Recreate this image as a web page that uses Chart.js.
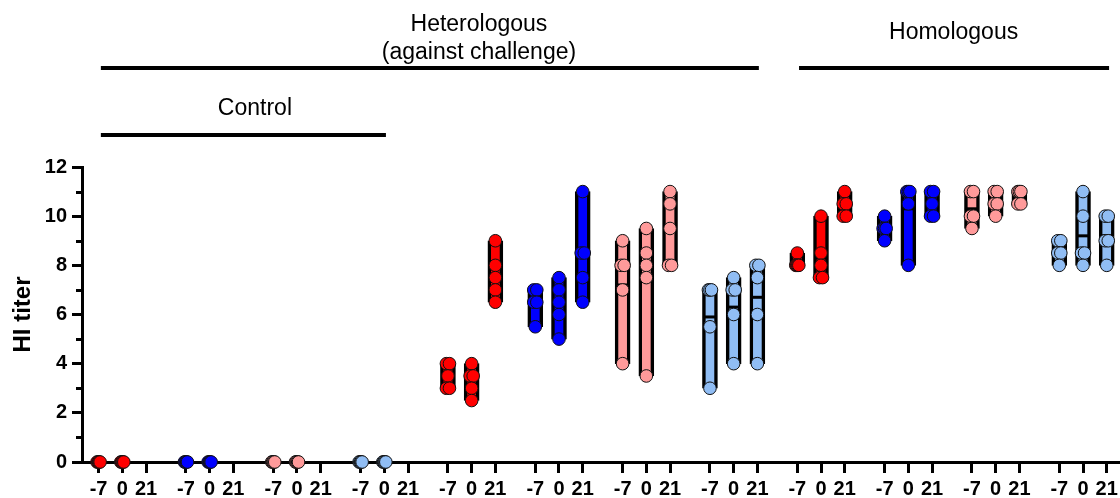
<!DOCTYPE html>
<html>
<head>
<meta charset="utf-8">
<script src="https://cdn.jsdelivr.net/npm/chart.js@4.4.0/dist/chart.umd.min.js"></script>
<style>
  html, body { margin: 0; padding: 0; background: #fff; }
  #wrap { width: 1120px; height: 498px; }
</style>
</head>
<body>
<div id="wrap"><canvas id="titerChart" width="1120" height="498"></canvas></div>
<script>
/* HI titers per animal, days -7 / 0 / 21, one array per group */
var dayLabels = ['-7', '0', '21'];

var controlRed       = [[0, 0, 0, 0, 0], [0, 0, 0, 0, 0], []];
var controlBlue      = [[0, 0, 0, 0, 0], [0, 0, 0, 0, 0], []];
var controlPink      = [[0, 0, 0, 0, 0], [0, 0, 0, 0, 0], []];
var controlLightBlue = [[0, 0, 0, 0, 0], [0, 0, 0, 0, 0], []];

var heteroRed        = [[4, 4, 3.5, 3, 3], [4, 3.5, 3.5, 3, 2.5], [9, 8, 7.5, 7, 6.5]];
var heteroBlue       = [[7, 7, 6.5, 6.5, 5.5], [7.5, 7, 6.5, 6, 5], [11, 8.5, 8.5, 7.5, 6.5]];
var heteroPink       = [[9, 8, 8, 7, 4], [9.5, 8.5, 8, 7.5, 3.5], [11, 10.5, 9.5, 8, 8]];
var heteroLightBlue  = [[7, 7, 7, 5.5, 3], [7.5, 7, 7, 6, 4], [8, 8, 7.5, 6, 4]];

var homoRed          = [[8.5, 8, 8, 8, 8], [10, 8.5, 8, 7.5, 7.5], [11, 10.5, 10.5, 10, 10]];
var homoBlue         = [[10, 9.5, 9.5, 9.5, 9], [11, 11, 11, 10.5, 8], [11, 11, 10.5, 10, 10]];
var homoPink         = [[11, 11, 10, 10, 9.5], [11, 11, 10.5, 10.5, 10], [11, 11, 11, 10.5, 10.5]];
var homoLightBlue    = [[9, 9, 8.5, 8.5, 8], [11, 10, 8.5, 8.5, 8], [10, 10, 9, 9, 8]];

var groups = [
  controlRed, controlBlue, controlPink, controlLightBlue,
  heteroRed, heteroBlue, heteroPink, heteroLightBlue,
  homoRed, homoBlue, homoPink, homoLightBlue
];

var palette = ['#ff0000', '#0000ff', '#ff9a9a', '#90bdf4'];
var DAY_STEP = 0.2715;   // day spacing, in group widths

function xOf(g, d) { return g + d * DAY_STEP; }

/* spread repeated values a couple of pixels apart */
function jitter(values) {
  var seen = {};
  return values.map(function (v) {
    var n = values.filter(function (w) { return w === v; }).length;
    var k = seen[v] = (seen[v] || 0) + 1;
    return n > 1 ? ((k - 1) / (n - 1) - 0.5) * 0.035 : 0;
  });
}

var bars = [], barColors = [], dots = [], dotColors = [], means = [];
var tickValues = [];

groups.forEach(function (grp, g) {
  var color = palette[g % 4];
  grp.forEach(function (vals, d) {
    var x = xOf(g, d);
    tickValues.push(x);
    if (!vals.length) return;
    var lo = Math.min.apply(null, vals), hi = Math.max.apply(null, vals);
    if (hi > lo) { bars.push({ x: x, y: [lo, hi] }); barColors.push(color); }
    var mean = vals.reduce(function (a, b) { return a + b; }, 0) / vals.length;
    means.push({ x: x, y: mean });
    var offs = jitter(vals);
    vals.forEach(function (v, i) {
      dots.push({ x: x + offs[i], y: v });
      dotColors.push(color);
    });
  });
});

/* brackets above the plot + minor y ticks */
var annotations = {
  id: 'annotations',
  afterDraw: function (chart) {
    var ctx = chart.ctx, xs = chart.scales.x, ys = chart.scales.y;
    ctx.save();
    ctx.strokeStyle = '#000';
    ctx.lineWidth = 3;
    for (var v = 1; v < 12; v += 2) {
      var py = Math.round(ys.getPixelForValue(v)) + 0.5;
      ctx.beginPath();
      ctx.moveTo(xs.left - 6, py);
      ctx.lineTo(xs.left, py);
      ctx.stroke();
    }

    var brackets = [
      { from: 0.026, to: 7.56, y: 68, cx: 4.355, lines: ['Heterologous', '(against challenge)'], base: 31 },
      { from: 8.02, to: 11.57, y: 68, cx: 9.79, lines: ['Homologous'], base: 39 },
      { from: 0.026, to: 3.29, y: 135, cx: 1.79, lines: ['Control'], base: 115 }
    ];
    ctx.lineWidth = 4;
    ctx.fillStyle = '#000';
    ctx.font = '23px "Liberation Sans", Arial, sans-serif';
    ctx.textAlign = 'center';
    ctx.textBaseline = 'alphabetic';
    brackets.forEach(function (b) {
      ctx.beginPath();
      ctx.moveTo(xs.getPixelForValue(b.from), b.y);
      ctx.lineTo(xs.getPixelForValue(b.to), b.y);
      ctx.stroke();
      b.lines.forEach(function (t, i) {
        ctx.fillText(t, xs.getPixelForValue(b.cx), b.base + i * 28);
      });
    });
    ctx.restore();
  }
};

Chart.defaults.font.family = '"Liberation Sans", Arial, sans-serif';
Chart.defaults.color = '#000';

new Chart(document.getElementById('titerChart'), {
  type: 'bar',
  data: {
    datasets: [
      {
        type: 'scatter',
        data: dots,
        backgroundColor: dotColors,
        borderColor: '#111',
        borderWidth: 1,
        pointRadius: 6.3,
        clip: false,
        order: 1
      },
      {
        type: 'scatter',
        data: means,
        pointStyle: 'line',
        pointRadius: 7,
        borderColor: '#000',
        borderWidth: 3,
        clip: false,
        order: 2
      },
      {
        type: 'bar',
        data: bars,
        backgroundColor: barColors,
        borderColor: '#000',
        borderWidth: 3.5,
        borderSkipped: false,
        barThickness: 15,
        grouped: false,
        clip: false,
        order: 3
      }
    ]
  },
  options: {
    responsive: false,
    animation: false,
    devicePixelRatio: 1,
    layout: { autoPadding: false, padding: { top: 167, left: 0, right: 0, bottom: 0 } },
    plugins: { legend: { display: false }, tooltip: { enabled: false } },
    scales: {
      x: {
        type: 'linear',
        offset: false,
        min: -0.19,
        max: 11.695,
        afterBuildTicks: function (scale) {
          scale.ticks = tickValues.map(function (v) { return { value: v }; });
        },
        afterFit: function (scale) {
          scale.height = 36;
          scale.paddingLeft = 0;
          scale.paddingRight = 0;
        },
        grid: { offset: false, drawOnChartArea: false, drawTicks: true, tickLength: 11, color: '#000', lineWidth: 3 },
        border: { color: '#000', width: 3 },
        ticks: {
          autoSkip: false,
          maxRotation: 0,
          padding: 4,
          font: { size: 20, weight: 'bold' },
          callback: function (value, index) { return dayLabels[index % 3]; }
        }
      },
      y: {
        min: 0,
        max: 12,
        afterFit: function (scale) { scale.width = 82; },
        grid: { drawOnChartArea: false, drawTicks: true, tickLength: 10, color: '#000', lineWidth: 3 },
        border: { color: '#000', width: 3 },
        ticks: { stepSize: 2, padding: 5, font: { size: 20, weight: 'bold' } },
        title: {
          display: true,
          text: 'HI titer',
          font: { size: 24, weight: 'bold' },
          padding: { top: 9, bottom: 0 }
        }
      }
    }
  },
  plugins: [annotations]
});
</script>
</body>
</html>
